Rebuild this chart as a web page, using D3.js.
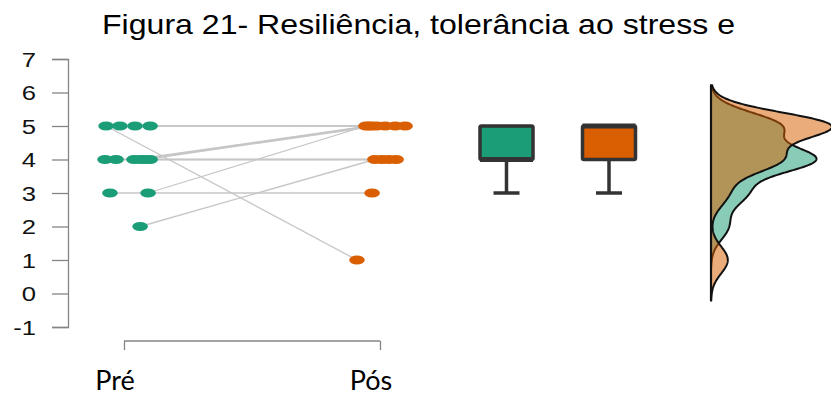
<!DOCTYPE html>
<html><head><meta charset="utf-8">
<script src="https://cdn.jsdelivr.net/npm/d3@7"></script>
<style>html,body{margin:0;padding:0;background:#fff;}svg{display:block;}</style>
</head><body>
<svg id="chart" width="831" height="396"></svg>
<script>
// ---- data ----
const title = "Figura 21- Resiliência, tolerância ao stress e";
const groups = ["Pré", "Pós"];
const preValues  = [5, 5, 5, 5, 4, 4, 4, 4, 4, 4, 3, 3, 2];
const postValues = [5, 1, 5, 5, 4, 4, 5, 5, 5, 4, 3, 5, 4];
// horizontal jitter of each subject, in category units
const preJitter  = [-0.016, -0.070, 0.043, 0.102, -0.074, -0.031, 0.039, 0.063, 0.082, 0.102, -0.055, 0.094, 0.063];
const postJitter = [0.059, -0.090, 0.020, 0.098, 0.008, 0.063, -0.043, -0.031, -0.012, 0.035, -0.031, -0.055, -0.020];
const yTicks = [-1, 0, 1, 2, 3, 4, 5, 6, 7];
const colors = ["#1b9e77", "#d95f02"];

// ---- setup ----
const svg = d3.select("#chart");
const y = d3.scaleLinear().domain([-1, 7]).range([327, 59]);
const x = d3.scaleLinear().domain([0, 1]).range([124, 380]);
const xBox = d3.scalePoint().domain(groups).range([506.5, 609]);

svg.append("text").attr("x", 102).attr("y", 33.5)
  .attr("font-family", "Liberation Sans, Arial, sans-serif").attr("font-size", 28)
  .attr("textLength", 633).attr("lengthAdjust", "spacingAndGlyphs")
  .attr("fill", "#000").text(title);

// y axis
const yAxis = svg.append("g").attr("transform", "translate(68,0)")
  .call(d3.axisLeft(y).tickValues(yTicks).tickSize(16).tickFormat(d => d < 0 ? "-" + Math.abs(d) : d));
yAxis.select(".domain").attr("stroke", "#858585").attr("stroke-width", 1.3);
yAxis.selectAll(".tick line").attr("stroke", "#858585").attr("stroke-width", 1.3);
yAxis.selectAll(".tick text").attr("x", 0).attr("dy", "0.36em")
  .attr("transform", "translate(-32,0) scale(1.25,1)")
  .attr("font-family", "Liberation Sans, Arial, sans-serif")
  .attr("font-size", 20.5).attr("fill", "#111");

// x axis
const xAxis = svg.append("g").attr("transform", "translate(0,341)")
  .call(d3.axisBottom(x).tickValues([0, 1]).tickSize(9).tickFormat(""));
xAxis.select(".domain").attr("stroke", "#858585").attr("stroke-width", 1.3).attr("d", `M${x(0)},0H${x(1)}`);
xAxis.selectAll(".tick line").attr("stroke", "#858585").attr("stroke-width", 1.3);

svg.selectAll(".grp").data(groups).join("text").attr("class", "grp")
  .attr("x", (d, i) => x(i) - 9).attr("y", 390).attr("text-anchor", "middle")
  .attr("font-family", "Lato, Open Sans, sans-serif").attr("font-size", 27).attr("fill", "#000")
  .text(d => d);

// lines
const subjects = preValues.map((v, i) => ({pre: v, post: postValues[i], jp: preJitter[i], jq: postJitter[i]}));
svg.append("g").selectAll("line").data(subjects).join("line")
  .attr("x1", d => x(0 + d.jp)).attr("y1", d => y(d.pre))
  .attr("x2", d => x(1 + d.jq)).attr("y2", d => y(d.post))
  .attr("stroke", "#c6c6c6").attr("stroke-width", 1.3);

// dots
svg.append("g").selectAll("ellipse").data(subjects).join("ellipse")
  .attr("cx", d => x(0 + d.jp)).attr("cy", d => y(d.pre)).attr("rx", 7.8).attr("ry", 4.6)
  .attr("fill", colors[0]);
svg.append("g").selectAll("ellipse").data(subjects).join("ellipse")
  .attr("cx", d => x(1 + d.jq)).attr("cy", d => y(d.post)).attr("rx", 7.8).attr("ry", 4.6)
  .attr("fill", colors[1]);

// boxplots
function stats(arr) {
  const s = arr.slice().sort(d3.ascending);
  const q1 = d3.quantileSorted(s, 0.25), med = d3.quantileSorted(s, 0.5), q3 = d3.quantileSorted(s, 0.75);
  const iqr = q3 - q1;
  const lo = d3.min(s.filter(v => v >= q1 - 1.5 * iqr));
  const hi = d3.max(s.filter(v => v <= q3 + 1.5 * iqr));
  return {q1, med, q3, lo, hi};
}
const allSeries = [preValues, postValues];
const bw = 53, cw = 26;
allSeries.forEach((arr, i) => {
  const st = stats(arr), cx = xBox(groups[i]);
  const g = svg.append("g");
  g.append("line").attr("x1", cx).attr("x2", cx).attr("y1", y(st.q1)).attr("y2", y(st.lo))
    .attr("stroke", "#333").attr("stroke-width", 3.5);
  g.append("line").attr("x1", cx - cw / 2).attr("x2", cx + cw / 2).attr("y1", y(st.lo)).attr("y2", y(st.lo))
    .attr("stroke", "#333").attr("stroke-width", 3.5);
  g.append("rect").attr("x", cx - bw / 2).attr("width", bw).attr("y", y(st.q3)).attr("height", y(st.q1) - y(st.q3))
    .attr("fill", colors[i]).attr("stroke", "#333").attr("stroke-width", 3.5).attr("rx", 1.5);
  g.append("line").attr("x1", cx - bw / 2).attr("x2", cx + bw / 2).attr("y1", y(st.med)).attr("y2", y(st.med))
    .attr("stroke", "#333").attr("stroke-width", 5);
});

// densities (gaussian KDE, R default bandwidth nrd0)
function nrd0(arr) {
  const s = arr.slice().sort(d3.ascending);
  const sd = d3.deviation(s), iqr = d3.quantileSorted(s, 0.75) - d3.quantileSorted(s, 0.25);
  const lo = Math.min(sd, iqr / 1.34);
  return 0.9 * lo * Math.pow(s.length, -0.2);
}
function kde(arr) {
  const h = nrd0(arr);
  const from = d3.min(arr) - 3 * h, to = d3.max(arr) + 3 * h;
  const n = 400, k = 1 / (arr.length * h * Math.sqrt(2 * Math.PI));
  return d3.range(n + 1).map(j => {
    const t = from + (to - from) * j / n;
    return [t, k * d3.sum(arr, v => Math.exp(-0.5 * ((t - v) / h) ** 2))];
  });
}
const dens = allSeries.map(kde);
const dmax = d3.max(dens, d => d3.max(d, p => p[1]));
const xd = d3.scaleLinear().domain([0, dmax]).range([711, 832]);
const area = d3.area().y(p => y(p[0])).x0(xd(0)).x1(p => xd(p[1])).curve(d3.curveLinear);
dens.forEach((d, i) => {
  svg.append("path").datum(d).attr("d", area)
    .attr("fill", colors[i]).attr("fill-opacity", 0.52)
    .attr("stroke", "#111").attr("stroke-width", 2);
});
const ext = [d3.min(dens, d => d[0][0]), d3.max(dens, d => d[d.length - 1][0])];
svg.append("line").attr("x1", xd(0)).attr("x2", xd(0)).attr("y1", y(ext[0])).attr("y2", y(ext[1]))
  .attr("stroke", "#111").attr("stroke-width", 2.2);
</script>
</body></html>
